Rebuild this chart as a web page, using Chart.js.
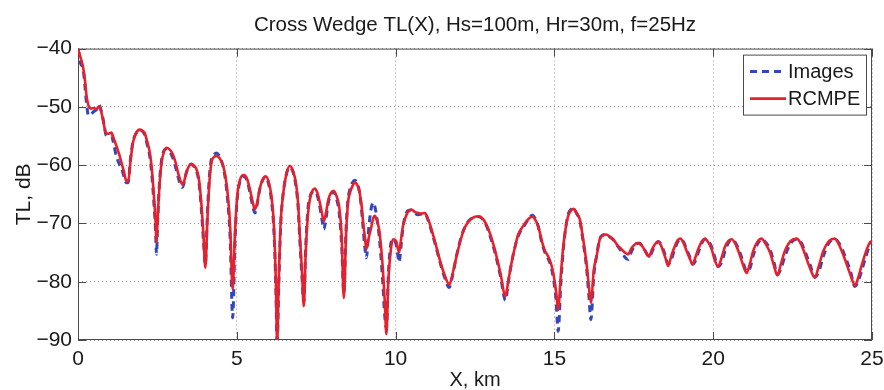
<!DOCTYPE html>
<html>
<head>
<meta charset="utf-8">
<title>Cross Wedge TL(X)</title>
<script src="https://cdn.jsdelivr.net/npm/chart.js@4.4.1/dist/chart.umd.min.js"></script>
<style>
  html, body { margin: 0; padding: 0; background: #fff; }
  #wrap { width: 884px; height: 390px; }
</style>
</head>
<body>
<div id="wrap"><canvas id="tlChart" width="884" height="390"></canvas></div>
<script>
// ======================
// DATA
// ======================

const chartTitle = 'Cross Wedge TL(X), Hs=100m, Hr=30m, f=25Hz';
const seriesNames = ['Images', 'RCMPE'];
const xTicks = [0, 5, 10, 15, 20, 25];
const yTicks = [-90, -80, -70, -60, -50, -40];

// range, km
const rangeKm = [
  0.00, 0.08, 0.16, 0.22, 0.27, 0.33, 0.40, 0.50, 0.58, 0.66,
  0.74, 0.82, 0.88, 0.97, 1.05, 1.13, 1.21, 1.30, 1.37, 1.45,
  1.52, 1.58, 1.65, 1.73, 1.83, 1.94, 2.03, 2.10, 2.18, 2.26,
  2.33, 2.39, 2.44, 2.47, 2.51, 2.56, 2.63, 2.70, 2.80, 2.90,
  2.99, 3.07, 3.15, 3.22, 3.29, 3.35, 3.41, 3.49, 3.57, 3.65,
  3.73, 3.81, 3.89, 3.95, 4.01, 4.07, 4.13, 4.20, 4.28, 4.36,
  4.46, 4.57, 4.65, 4.72, 4.79, 4.87, 4.94, 5.01, 5.10, 5.22,
  5.32, 5.41, 5.50, 5.57, 5.64, 5.72, 5.82, 5.91, 6.00, 6.09,
  6.17, 6.23, 6.27, 6.32, 6.38, 6.44, 6.55, 6.67, 6.77, 6.86,
  6.93, 6.98, 7.05, 7.11, 7.17, 7.24, 7.30, 7.38, 7.46, 7.54,
  7.61, 7.68, 7.74, 7.80, 7.88, 7.96, 8.05, 8.14, 8.22, 8.30,
  8.37, 8.44, 8.50, 8.56, 8.64, 8.72, 8.80, 8.87, 8.93, 8.98,
  9.03, 9.08, 9.16, 9.24, 9.30, 9.35, 9.41, 9.48, 9.55, 9.60,
  9.66, 9.71, 9.77, 9.85, 9.92, 9.98, 10.03, 10.08, 10.11, 10.17,
  10.23, 10.29, 10.39, 10.50, 10.60, 10.71, 10.82, 10.92, 11.02, 11.13,
  11.26, 11.39, 11.54, 11.69, 11.80, 11.92, 12.05, 12.18, 12.31, 12.44,
  12.55, 12.65, 12.76, 12.86, 12.99, 13.12, 13.30, 13.46, 13.55, 13.65,
  13.76, 13.86, 13.97, 14.07, 14.19, 14.30, 14.40, 14.49, 14.57, 14.65,
  14.72, 14.80, 14.90, 14.98, 15.05, 15.12, 15.20, 15.28, 15.35, 15.43,
  15.52, 15.61, 15.70, 15.80, 15.90, 16.01, 16.08, 16.15, 16.24, 16.33,
  16.43, 16.52, 16.62, 16.73, 16.85, 16.98, 17.11, 17.22, 17.32, 17.43,
  17.53, 17.61, 17.69, 17.78, 17.85, 17.93, 17.98, 18.07, 18.16, 18.27,
  18.35, 18.42, 18.50, 18.58, 18.68, 18.79, 18.88, 18.97, 19.07, 19.16,
  19.26, 19.35, 19.44, 19.53, 19.64, 19.74, 19.85, 19.95, 20.05, 20.15,
  20.27, 20.37, 20.48, 20.58, 20.69, 20.79, 20.92, 21.05, 21.15, 21.26,
  21.39, 21.52, 21.66, 21.79, 21.91, 22.02, 22.13, 22.26, 22.44, 22.63,
  22.77, 22.89, 23.05, 23.20, 23.33, 23.47, 23.65, 23.83, 23.99, 24.15,
  24.32, 24.46, 24.56, 24.67, 24.80, 24.93, 25.00
];

// Images (blue dashed), dB
const imagesTL = [
  -40.0, -42.5, -43.5, -46.5, -49.5, -51.5, -51.3, -50.8, -50.5, -49.7,
  -50.8, -53.0, -54.8, -55.0, -55.0, -56.5, -58.5, -59.8, -60.5, -62.0,
  -63.0, -63.0, -59.0, -56.0, -54.5, -53.9, -54.2, -54.8, -56.5, -58.5,
  -62.0, -66.5, -71.0, -75.3, -69.5, -63.5, -59.2, -57.6, -57.2, -57.8,
  -58.8, -60.3, -62.0, -63.3, -63.8, -62.8, -61.3, -60.2, -59.8, -60.2,
  -61.0, -63.0, -68.0, -73.0, -77.0, -69.0, -62.5, -59.0, -58.2, -57.9,
  -58.5, -60.3, -62.8, -66.5, -72.5, -86.2, -73.5, -66.0, -62.8, -61.9,
  -62.6, -64.6, -67.0, -68.2, -66.8, -64.2, -62.5, -62.0, -63.2, -66.0,
  -71.5, -81.0, -91.0, -81.0, -70.5, -65.9, -61.8, -60.3, -61.2, -63.5,
  -67.2, -72.5, -79.0, -83.5, -74.0, -67.5, -65.5, -64.6, -64.5, -65.3,
  -67.0, -69.3, -71.0, -69.5, -66.5, -65.0, -64.6, -65.8, -68.0, -73.5,
  -82.0, -71.0, -66.0, -64.2, -63.0, -62.6, -63.2, -64.8, -67.8, -71.0,
  -74.0, -75.9, -70.5, -67.2, -66.4, -67.2, -69.0, -72.0, -76.5, -80.5,
  -86.0, -88.0, -79.0, -73.5, -72.7, -73.0, -74.0, -75.8, -76.7, -74.0,
  -70.8, -69.0, -67.8, -67.7, -68.2, -68.5, -68.4, -68.3, -69.4, -71.3,
  -73.8, -76.5, -79.2, -81.0, -78.8, -75.5, -72.6, -70.6, -69.5, -69.0,
  -68.8, -68.9, -69.4, -70.4, -72.4, -74.8, -79.0, -83.2, -80.0, -76.8,
  -74.0, -72.2, -71.0, -70.2, -69.2, -68.6, -69.2, -70.5, -72.5, -74.2,
  -75.2, -76.0, -77.5, -79.8, -83.0, -88.5, -80.5, -74.5, -71.0, -68.5,
  -67.6, -67.4, -68.3, -69.5, -73.0, -77.5, -82.0, -86.5, -79.0, -75.5,
  -72.6, -72.0, -71.9, -72.3, -72.8, -73.8, -74.8, -75.8, -76.2, -74.8,
  -73.8, -73.4, -73.4, -74.0, -74.6, -75.4, -75.8, -74.9, -73.8, -73.1,
  -73.5, -74.4, -75.6, -77.0, -76.2, -74.4, -73.2, -72.7, -73.2, -74.4,
  -75.7, -77.0, -76.4, -75.0, -73.4, -72.7, -73.1, -74.0, -75.8, -77.4,
  -76.6, -74.8, -73.3, -72.8, -73.2, -74.3, -76.2, -78.2, -77.8, -75.5,
  -73.6, -72.7, -73.3, -74.5, -76.6, -78.8, -77.8, -75.6, -73.4, -72.7,
  -73.3, -74.8, -77.1, -79.2, -78.2, -75.6, -73.3, -72.7, -73.6, -75.6,
  -78.2, -80.8, -80.0, -78.2, -75.8, -73.8, -73.4
];

// RCMPE (red solid), dB
const rcmpeTL = [
  -40.0, -41.5, -43.2, -45.5, -48.2, -49.8, -50.3, -50.2, -50.4, -49.9,
  -51.0, -53.2, -54.5, -54.6, -54.4, -55.5, -56.7, -58.2, -59.6, -61.2,
  -62.7, -62.8, -59.5, -56.1, -54.5, -53.9, -54.1, -54.5, -56.0, -57.8,
  -61.0, -65.3, -69.5, -73.3, -69.0, -64.0, -59.6, -57.8, -57.0, -57.4,
  -58.2, -59.5, -61.3, -62.6, -63.3, -62.6, -61.3, -60.2, -59.8, -60.1,
  -60.7, -62.5, -67.0, -72.0, -77.6, -70.0, -63.5, -59.6, -58.6, -58.4,
  -58.8, -60.1, -62.2, -65.3, -70.5, -81.3, -72.0, -65.5, -62.5, -61.7,
  -62.3, -64.1, -66.3, -67.6, -66.5, -64.1, -62.4, -61.9, -62.8, -65.3,
  -70.5, -80.2, -90.5, -80.0, -70.0, -65.9, -61.8, -60.1, -61.0, -63.0,
  -66.5, -71.6, -78.0, -84.2, -75.0, -68.5, -65.9, -64.4, -64.0, -64.8,
  -66.3, -68.2, -69.6, -68.4, -66.0, -64.8, -64.4, -65.3, -67.0, -72.0,
  -82.8, -72.0, -66.5, -64.8, -63.6, -63.0, -63.5, -64.8, -67.0, -69.9,
  -72.2, -74.4, -72.3, -70.5, -69.0, -68.7, -69.5, -71.0, -74.5, -77.9,
  -83.5, -89.0, -80.0, -74.5, -72.7, -72.8, -73.2, -74.5, -75.0, -72.8,
  -70.5, -69.3, -68.0, -67.6, -68.0, -68.2, -68.3, -68.2, -69.2, -71.0,
  -73.5, -76.2, -78.8, -80.5, -78.5, -75.6, -72.8, -70.7, -69.6, -69.0,
  -68.8, -68.8, -69.3, -70.2, -72.0, -74.4, -78.5, -82.5, -79.8, -76.8,
  -74.0, -71.9, -70.8, -70.0, -69.2, -68.8, -69.4, -70.5, -72.2, -73.9,
  -74.9, -75.6, -77.0, -79.0, -81.5, -84.8, -79.0, -73.9, -71.0, -68.8,
  -67.8, -67.5, -68.2, -69.3, -72.5, -76.8, -80.5, -83.6, -78.0, -75.6,
  -72.7, -72.1, -71.9, -72.2, -72.7, -73.7, -74.4, -75.0, -75.3, -74.2,
  -73.6, -73.4, -73.5, -74.0, -74.7, -75.4, -75.7, -74.5, -73.6, -73.1,
  -73.7, -74.7, -76.0, -77.3, -75.6, -73.9, -72.9, -72.6, -73.4, -74.7,
  -76.0, -77.0, -75.8, -74.4, -73.1, -72.6, -73.3, -74.4, -76.3, -77.4,
  -75.8, -74.0, -73.0, -72.7, -73.4, -74.7, -76.8, -78.5, -77.0, -74.7,
  -73.2, -72.6, -73.6, -75.0, -77.2, -78.9, -77.0, -74.7, -73.0, -72.6,
  -73.6, -75.3, -77.7, -79.3, -77.2, -74.7, -73.0, -72.6, -74.0, -76.2,
  -78.8, -80.6, -79.4, -77.3, -75.0, -73.3, -73.0
];

// ======================
// CHART
// ======================

const FONT = "'Liberation Sans', Arial, Helvetica, sans-serif";
const TEXT = '#1a1a1a';
const FRAME = '#4a4a4a';

const toPoints = (vals) => vals.map((v, i) => ({ x: rangeKm[i], y: v }));
const minusSign = (v) => String(v).replace('-', '\u2212');

// MATLAB-like box round the axes, with inward tick marks
const axesFrame = {
  id: 'axesFrame',
  beforeDatasetsDraw(chart) {
    const { ctx, chartArea: a, scales } = chart;
    const tickLen = 8;
    ctx.save();
    ctx.strokeStyle = FRAME;
    ctx.lineWidth = 1;
    ctx.strokeRect(a.left + 0.5, a.top + 0.5, a.width - 1, a.height - 1);
    ctx.beginPath();
    scales.x.ticks.forEach(t => {
      const px = Math.round(scales.x.getPixelForValue(t.value)) + 0.5;
      ctx.moveTo(px, a.bottom); ctx.lineTo(px, a.bottom - tickLen);
      ctx.moveTo(px, a.top); ctx.lineTo(px, a.top + tickLen);
    });
    scales.y.ticks.forEach(t => {
      const py = Math.round(scales.y.getPixelForValue(t.value)) + 0.5;
      ctx.moveTo(a.left, py); ctx.lineTo(a.left + tickLen, py);
      ctx.moveTo(a.right, py); ctx.lineTo(a.right - tickLen, py);
    });
    ctx.stroke();
    ctx.restore();
  }
};

// boxed legend in the top right corner of the axes
const boxedLegend = {
  id: 'boxedLegend',
  afterDatasetsDraw(chart) {
    const { ctx, chartArea: a } = chart;
    const w = 123, h = 60;
    const left = a.right - 6 - w, top = a.top + 6;
    ctx.save();
    ctx.fillStyle = '#fff';
    ctx.fillRect(left, top, w, h);
    ctx.strokeStyle = FRAME;
    ctx.lineWidth = 1;
    ctx.strokeRect(left + 0.5, top + 0.5, w, h);
    ctx.font = `20px ${FONT}`;
    ctx.textBaseline = 'middle';
    ctx.textAlign = 'left';
    chart.data.datasets.forEach((ds, i) => {
      const cy = top + 17 + i * 27;
      ctx.strokeStyle = ds.borderColor;
      ctx.lineWidth = ds.borderWidth;
      ctx.setLineDash(ds.borderDash || []);
      ctx.beginPath();
      ctx.moveTo(left + 7, cy);
      ctx.lineTo(left + 43, cy);
      ctx.stroke();
      ctx.setLineDash([]);
      ctx.fillStyle = TEXT;
      ctx.fillText(ds.label, left + 45, cy + 1);
    });
    ctx.restore();
  }
};

new Chart(document.getElementById('tlChart'), {
  type: 'line',
  data: {
    datasets: [
      {
        label: seriesNames[0],
        data: toPoints(imagesTL),
        borderColor: '#3246bd',
        borderWidth: 3,
        borderDash: [7, 5],
        order: 2
      },
      {
        label: seriesNames[1],
        data: toPoints(rcmpeTL),
        borderColor: '#e8202a',
        borderWidth: 2.6,
        order: 1
      }
    ]
  },
  options: {
    responsive: false,
    animation: false,
    devicePixelRatio: 1,
    elements: {
      point: { radius: 0 },
      line: { cubicInterpolationMode: 'monotone', fill: false }
    },
    layout: { padding: { left: 0, top: 0, right: 12, bottom: 0 } },
    plugins: {
      legend: { display: false },
      tooltip: { enabled: false },
      title: {
        display: true,
        fullSize: false,
        text: chartTitle,
        color: TEXT,
        font: { family: FONT, size: 20.5, weight: 'normal', lineHeight: 1.2 },
        padding: { top: 13, bottom: 11 }
      }
    },
    scales: {
      x: {
        type: 'linear',
        min: xTicks[0],
        max: xTicks[xTicks.length - 1],
        afterBuildTicks: (s) => { s.ticks = xTicks.map(v => ({ value: v })); },
        afterFit: (s) => { s.height = 50; s.paddingLeft = 0; s.paddingRight = 12; },
        ticks: {
          color: TEXT,
          padding: 7,
          maxRotation: 0,
          font: { family: FONT, size: 21 },
          callback: (v) => minusSign(v)
        },
        grid: { color: 'rgba(0,0,0,0.4)', lineWidth: 1, drawTicks: false, z: -1 },
        border: { display: false, dash: [1, 3] },
        title: {
          display: true,
          text: 'X, km',
          color: TEXT,
          font: { family: FONT, size: 20, lineHeight: 1 },
          padding: 0
        }
      },
      y: {
        type: 'linear',
        min: yTicks[0],
        max: yTicks[yTicks.length - 1],
        afterBuildTicks: (s) => { s.ticks = yTicks.map(v => ({ value: v })); },
        afterFit: (s) => { s.width = 78; },
        ticks: {
          color: TEXT,
          padding: 6,
          font: { family: FONT, size: 21 },
          callback: (v) => minusSign(v)
        },
        grid: { color: 'rgba(0,0,0,0.4)', lineWidth: 1, drawTicks: false, z: -1 },
        border: { display: false, dash: [1, 3] },
        title: {
          display: true,
          text: 'TL, dB',
          color: TEXT,
          font: { family: FONT, size: 21, lineHeight: 1 },
          padding: { top: 14, bottom: 0 }
        }
      }
    }
  },
  plugins: [axesFrame, boxedLegend]
});
</script>
</body>
</html>
